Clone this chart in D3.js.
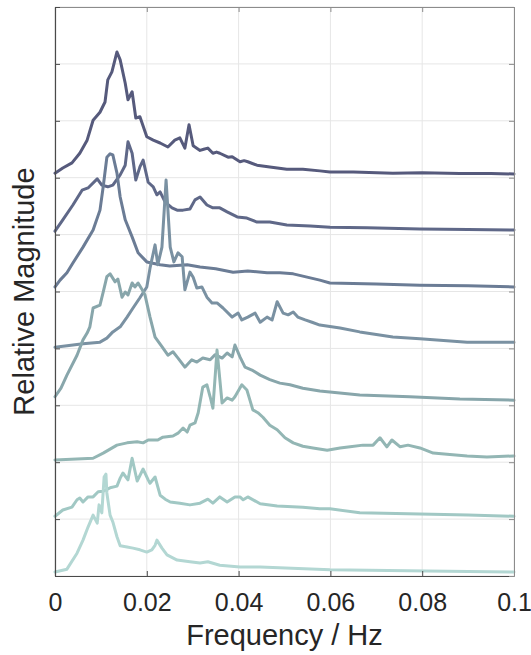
<!DOCTYPE html>
<html>
<head>
<meta charset="utf-8">
<script src="https://cdn.jsdelivr.net/npm/d3@7/dist/d3.min.js"></script>
<style>
  body { margin: 0; background: #fff; }
  text { font-family: "Liberation Sans", Arial, Helvetica, sans-serif; fill: #262626; }
</style>
</head>
<body>
<svg id="chart" width="531" height="655"></svg>
<script>
// Frequency axis ticks (Hz)
const xTicks = [0, 0.02, 0.04, 0.06, 0.08, 0.1];
const xTickLabels = ["0", "0.02", "0.04", "0.06", "0.08", "0.1"];
// Magnitude ticks (unlabelled), one per stacking step
const yTicks = [0, 1, 2, 3, 4, 5, 6, 7, 8, 9, 10];
// Vertical offset of each spectrum in the stack (top to bottom)
const offsets = [7, 6, 5, 4, 3, 2, 1, 0];

// Spectra: [frequency (Hz), relative magnitude]
const spectrum1 = [[0,0.08],[0.0017,0.17],[0.0037,0.26],[0.0054,0.43],[0.0070,0.66],[0.0083,1.01],[0.0098,1.15],[0.0109,1.33],[0.0115,1.72],[0.0124,1.86],[0.0135,2.21],[0.0142,2.07],[0.0153,1.66],[0.0159,1.37],[0.0168,1.51],[0.0176,1.05],[0.0185,1.07],[0.0200,0.72],[0.0214,0.66],[0.0229,0.61],[0.0246,0.54],[0.0261,0.66],[0.0272,0.70],[0.0283,0.52],[0.0292,0.93],[0.0301,0.56],[0.0316,0.48],[0.0324,0.50],[0.0333,0.52],[0.0344,0.43],[0.0352,0.45],[0.0359,0.43],[0.0377,0.36],[0.0386,0.37],[0.0403,0.28],[0.0412,0.30],[0.0420,0.28],[0.0440,0.22],[0.0468,0.19],[0.0505,0.15],[0.0540,0.15],[0.0577,0.12],[0.0599,0.10],[0.0650,0.10],[0.0736,0.08],[0.0800,0.085],[0.0882,0.075],[0.0950,0.075],[0.1,0.065]];
const spectrum2 = [[0,0.06],[0.0017,0.26],[0.0039,0.52],[0.0059,0.78],[0.0072,0.82],[0.0092,0.98],[0.0102,0.87],[0.0115,0.84],[0.0126,0.87],[0.0142,1.05],[0.0153,1.22],[0.0159,1.63],[0.0168,1.43],[0.0176,0.96],[0.0185,1.19],[0.0192,1.31],[0.0203,0.92],[0.0214,0.84],[0.0222,0.70],[0.0229,0.75],[0.0240,0.57],[0.0255,0.47],[0.0266,0.43],[0.0279,0.43],[0.0294,0.45],[0.0305,0.61],[0.0316,0.66],[0.0331,0.52],[0.0344,0.47],[0.0359,0.47],[0.0375,0.40],[0.0397,0.31],[0.0418,0.29],[0.0440,0.22],[0.0468,0.22],[0.0505,0.17],[0.0556,0.15],[0.0599,0.13],[0.0680,0.12],[0.0795,0.10],[0.0900,0.09],[0.1,0.08]];
const spectrum3 = [[0,0.08],[0.0011,0.20],[0.0026,0.33],[0.0039,0.50],[0.0061,0.78],[0.0083,1.08],[0.0098,1.43],[0.0105,1.84],[0.0113,2.36],[0.0120,2.42],[0.0126,2.40],[0.0135,2.08],[0.0142,1.66],[0.0153,1.26],[0.0168,0.96],[0.0181,0.68],[0.0200,0.52],[0.0229,0.47],[0.0250,0.45],[0.0288,0.47],[0.0316,0.43],[0.0350,0.40],[0.0388,0.34],[0.0420,0.36],[0.0462,0.33],[0.0490,0.33],[0.0519,0.31],[0.0577,0.20],[0.0599,0.15],[0.0700,0.13],[0.0795,0.11],[0.0900,0.10],[0.1,0.08]];
const spectrum4 = [[0,0.02],[0.0061,0.08],[0.0098,0.11],[0.0113,0.18],[0.0126,0.29],[0.0142,0.38],[0.0157,0.55],[0.0170,0.71],[0.0185,0.89],[0.0200,1.08],[0.0207,1.41],[0.0218,1.82],[0.0224,1.47],[0.0233,1.78],[0.0242,2.96],[0.0251,1.78],[0.0259,1.52],[0.0268,1.68],[0.0277,1.61],[0.0283,1.03],[0.0294,1.34],[0.0301,1.25],[0.0309,1.06],[0.0320,1.08],[0.0331,0.90],[0.0342,0.80],[0.0353,0.80],[0.0366,0.71],[0.0386,0.55],[0.0399,0.62],[0.0407,0.50],[0.0420,0.55],[0.0436,0.62],[0.0447,0.46],[0.0462,0.55],[0.0473,0.50],[0.0484,0.82],[0.0497,0.62],[0.0508,0.59],[0.0519,0.64],[0.0529,0.55],[0.0545,0.50],[0.0560,0.46],[0.0577,0.41],[0.0621,0.36],[0.0664,0.29],[0.0736,0.20],[0.0795,0.17],[0.0898,0.11],[0.1,0.11]];
const spectrum5 = [[0,0.15],[0.0013,0.30],[0.0026,0.53],[0.0048,0.88],[0.0061,1.15],[0.0070,1.27],[0.0076,1.38],[0.0083,1.71],[0.0098,1.76],[0.0105,1.99],[0.0113,2.26],[0.0120,2.31],[0.0131,2.17],[0.0137,2.22],[0.0146,1.90],[0.0153,1.99],[0.0159,1.94],[0.0168,2.15],[0.0174,2.08],[0.0181,2.15],[0.0190,2.03],[0.0196,1.94],[0.0207,1.55],[0.0218,1.20],[0.0233,1.03],[0.0246,0.88],[0.0257,0.94],[0.0268,0.83],[0.0283,0.67],[0.0298,0.80],[0.0309,0.76],[0.0322,0.83],[0.0338,0.80],[0.0349,0.89],[0.0364,0.83],[0.0375,0.92],[0.0386,0.85],[0.0392,1.06],[0.0403,0.85],[0.0414,0.67],[0.0429,0.62],[0.0447,0.53],[0.0468,0.45],[0.0490,0.39],[0.0512,0.36],[0.0540,0.30],[0.0577,0.25],[0.0664,0.18],[0.0773,0.15],[0.0882,0.11],[0.1,0.09]];
const spectrum6 = [[0,0.04],[0.0083,0.07],[0.0105,0.16],[0.0135,0.30],[0.0157,0.34],[0.0179,0.36],[0.0192,0.34],[0.0203,0.39],[0.0224,0.39],[0.0235,0.44],[0.0257,0.46],[0.0268,0.51],[0.0279,0.60],[0.0288,0.53],[0.0294,0.65],[0.0305,0.69],[0.0312,0.87],[0.0322,1.32],[0.0331,1.36],[0.0338,1.15],[0.0344,0.95],[0.0353,1.97],[0.0364,1.04],[0.0375,1.13],[0.0386,1.09],[0.0392,1.15],[0.0407,1.36],[0.0418,1.27],[0.0431,0.92],[0.0442,0.87],[0.0453,0.79],[0.0468,0.65],[0.0484,0.57],[0.0501,0.43],[0.0519,0.34],[0.0540,0.28],[0.0562,0.25],[0.0593,0.21],[0.0621,0.25],[0.0643,0.27],[0.0671,0.30],[0.0693,0.30],[0.0708,0.43],[0.0723,0.27],[0.0734,0.39],[0.0752,0.27],[0.0769,0.30],[0.0795,0.25],[0.0824,0.16],[0.0854,0.14],[0.0898,0.11],[0.0941,0.09],[0.1,0.11]];
const spectrum7 = [[0,0.05],[0.0017,0.16],[0.0037,0.21],[0.0048,0.34],[0.0054,0.37],[0.0061,0.30],[0.0072,0.39],[0.0083,0.39],[0.0094,0.48],[0.0105,0.49],[0.0120,0.55],[0.0135,0.58],[0.0142,0.72],[0.0148,0.81],[0.0159,0.69],[0.0168,1.07],[0.0179,0.67],[0.0192,0.88],[0.0203,0.69],[0.0207,0.63],[0.0218,0.74],[0.0229,0.42],[0.0240,0.35],[0.0251,0.30],[0.0272,0.28],[0.0294,0.25],[0.0316,0.28],[0.0333,0.35],[0.0344,0.28],[0.0359,0.39],[0.0375,0.30],[0.0392,0.39],[0.0403,0.39],[0.0410,0.34],[0.0420,0.39],[0.0447,0.27],[0.0484,0.23],[0.0540,0.21],[0.0577,0.18],[0.0599,0.18],[0.0664,0.11],[0.0795,0.09],[0.0900,0.07],[0.1,0.05]];
const spectrum8 = [[0,0.07],[0.0026,0.12],[0.0048,0.40],[0.0061,0.63],[0.0072,0.86],[0.0083,1.07],[0.0092,0.93],[0.0096,1.25],[0.0102,1.11],[0.0107,1.74],[0.0111,1.79],[0.0113,1.46],[0.0120,1.07],[0.0126,0.95],[0.0135,0.69],[0.0142,0.53],[0.0157,0.51],[0.0170,0.49],[0.0185,0.46],[0.0200,0.42],[0.0211,0.46],[0.0218,0.54],[0.0222,0.63],[0.0233,0.49],[0.0244,0.37],[0.0266,0.28],[0.0294,0.25],[0.0316,0.23],[0.0333,0.25],[0.0359,0.19],[0.0403,0.16],[0.0447,0.16],[0.0599,0.11],[0.0810,0.09],[0.1,0.07]];

const spectra = [spectrum1, spectrum2, spectrum3, spectrum4, spectrum5, spectrum6, spectrum7, spectrum8];
const lineColors = ["#565a7c", "#5f6888", "#6b7c95", "#7a91a2", "#88a6ab", "#93b6b4", "#a1c8c4", "#b3d7d3"];

const svg = d3.select("#chart");
const plotLeft = 55, plotRight = 514, plotTop = 7, plotBottom = 576;

const x = d3.scaleLinear().domain([0, 0.1]).range([plotLeft, plotRight]);
const y = d3.scaleLinear().domain([0, 10]).range([plotBottom, plotTop]);

// grid
const grid = svg.append("g").attr("stroke", "#e6e6e6").attr("stroke-width", 1);
grid.selectAll("line.gx").data(xTicks).join("line")
  .attr("x1", d => x(d)).attr("x2", d => x(d))
  .attr("y1", plotTop).attr("y2", plotBottom);
grid.selectAll("line.gy").data(yTicks).join("line")
  .attr("x1", plotLeft).attr("x2", plotRight)
  .attr("y1", d => y(d)).attr("y2", d => y(d));

// spectra, stacked by offset
const line = d3.line()
  .x(d => x(d[0]))
  .y(d => y(d[1]));

const traces = svg.append("g").attr("fill", "none")
  .attr("stroke-width", 3).attr("stroke-linejoin", "round").attr("stroke-linecap", "round");
spectra.forEach((s, i) => {
  traces.append("path")
    .datum(s.map(p => [p[0], p[1] + offsets[i]]))
    .attr("stroke", lineColors[i])
    .attr("d", line);
});

// box axes with inward ticks
const axBottom = svg.append("g").attr("transform", `translate(0,${plotBottom})`)
  .call(d3.axisBottom(x).tickValues(xTicks).tickSize(-5).tickSizeOuter(0).tickPadding(17)
    .tickFormat((d, i) => xTickLabels[i]));
const axTop = svg.append("g").attr("transform", `translate(0,${plotTop})`)
  .call(d3.axisTop(x).tickValues(xTicks).tickSize(-5).tickSizeOuter(0).tickFormat(""));
const axLeft = svg.append("g").attr("transform", `translate(${plotLeft},0)`)
  .call(d3.axisLeft(y).tickValues(yTicks).tickSize(-5).tickSizeOuter(0).tickFormat(""));
const axRight = svg.append("g").attr("transform", `translate(${plotRight},0)`)
  .call(d3.axisRight(y).tickValues(yTicks).tickSize(-5).tickSizeOuter(0).tickFormat(""));

[axBottom, axLeft].forEach(g => {
  g.select(".domain").attr("stroke", "#4a4a4a").attr("stroke-width", 1.2);
  g.selectAll(".tick line").attr("stroke", "#4a4a4a");
});
[axTop, axRight].forEach(g => {
  g.select(".domain").attr("stroke", "#8c8c8c");
  g.selectAll(".tick line").attr("stroke", "#8c8c8c");
});
[axBottom, axTop, axLeft, axRight].forEach(g => g.attr("font-family", null));
axBottom.selectAll(".tick text")
  .attr("font-size", 25).attr("fill", "#262626");

// axis titles
svg.append("text")
  .attr("x", (plotLeft + plotRight) / 2).attr("y", 645)
  .attr("text-anchor", "middle").attr("font-size", 29)
  .text("Frequency / Hz");
svg.append("text")
  .attr("transform", `translate(34,${(plotTop + plotBottom) / 2}) rotate(-90)`)
  .attr("text-anchor", "middle").attr("font-size", 29)
  .text("Relative Magnitude");
</script>
</body>
</html>
